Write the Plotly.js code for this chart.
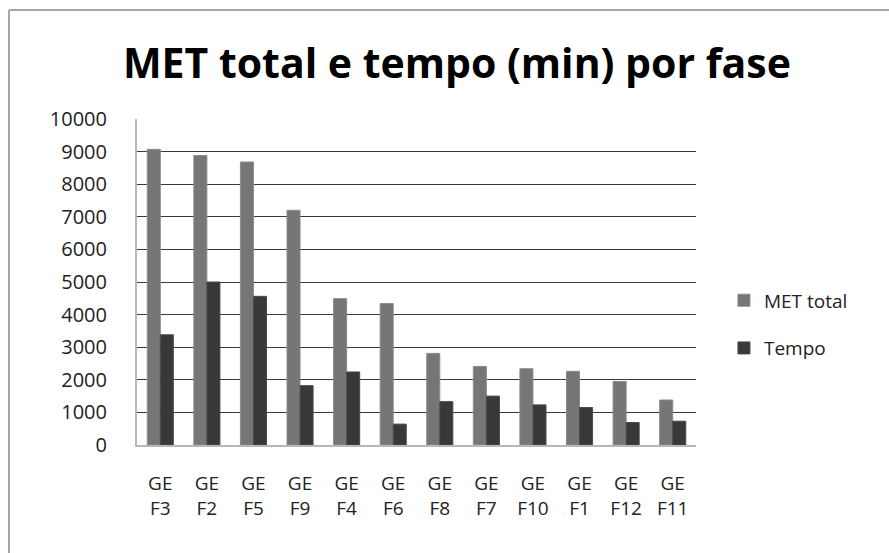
<!DOCTYPE html>
<html>
<head>
<meta charset="utf-8">
<script src="https://cdn.plot.ly/plotly-3.0.1.min.js"></script>
<style>
  html, body { margin: 0; padding: 0; background: #fff; overflow: hidden; width: 100%; height: 100%; }
  #chart { width: 100%; height: 100%; }
</style>
</head>
<body>
<div id="chart"></div>
<script>
const categories = ["GE<br>F3", "GE<br>F2", "GE<br>F5", "GE<br>F9", "GE<br>F4", "GE<br>F6",
                    "GE<br>F8", "GE<br>F7", "GE<br>F10", "GE<br>F1", "GE<br>F12", "GE<br>F11"];
const metTotal = [9070, 8880, 8680, 7200, 4490, 4340, 2810, 2410, 2340, 2260, 1950, 1380];
const tempo    = [3380, 5000, 4560, 1820, 2240, 640, 1330, 1500, 1230, 1150, 690, 730];
const yTicks = [0, 1000, 2000, 3000, 4000, 5000, 6000, 7000, 8000, 9000, 10000];

const fontFam = "'Open Sans', Lato, sans-serif";

const traces = [
  { type: "bar", name: "MET total", x: categories, y: metTotal, legendgroup: "a",
    marker: { color: "#767676", line: { color: "#8a8a8a", width: 1 } } },
  { type: "bar", name: "Tempo", x: categories, y: tempo, legendgroup: "b",
    marker: { color: "#383838", line: { color: "#4a4a4a", width: 1 } } }
];

const W = 889, H = 553;
// outer chart frame (only top and left edges are visible in the reference)
const fx = (9 - 137) / 559, fy = (445 - 10) / 326;

const layout = {
  width: W, height: H,
  margin: { l: 137, r: 193, t: 119, b: 108 },
  paper_bgcolor: "#ffffff", plot_bgcolor: "#ffffff",
  barmode: "group", bargap: 0.44, bargroupgap: 0,
  title: { text: "<b>MET total e tempo (min) por fase</b>",
           font: { family: fontFam, size: 41, color: "#000000" },
           x: 0.514, xanchor: "center", y: 0.885, yanchor: "middle" },
  xaxis: { type: "category", showgrid: false, showline: true, linecolor: "#b8b8b8", linewidth: 2,
           ticks: "", tickfont: { family: fontFam, size: 19, color: "#222" },
           ticklabelstandoff: 20, fixedrange: true },
  yaxis: { range: [0, 10000], tickvals: yTicks, ticktext: yTicks.map(String),
           showgrid: true, gridcolor: "#3a3a3a", gridwidth: 1,
           showline: true, linecolor: "#b8b8b8", linewidth: 2, zeroline: false,
           ticks: "", tickfont: { family: fontFam, size: 20, color: "#222" },
           ticklabelstandoff: 24, fixedrange: true },
  legend: { x: 1.05, xanchor: "left", xref: "paper", y: 0.37, yanchor: "middle",
            font: { family: fontFam, size: 19, color: "#222" },
            traceorder: "grouped", tracegroupgap: 20, itemwidth: 30 },
  shapes: [
    { type: "line", xref: "paper", yref: "paper", x0: fx, x1: 1.5, y0: fy, y1: fy,
      line: { color: "#a6a6a6", width: 2 } },
    { type: "line", xref: "paper", yref: "paper", x0: fx, x1: fx, y0: fy, y1: -0.5,
      line: { color: "#a6a6a6", width: 2 } }
  ],
  showlegend: true
};

Plotly.newPlot("chart", traces, layout, { displayModeBar: false, staticPlot: true });
</script>
</body>
</html>
